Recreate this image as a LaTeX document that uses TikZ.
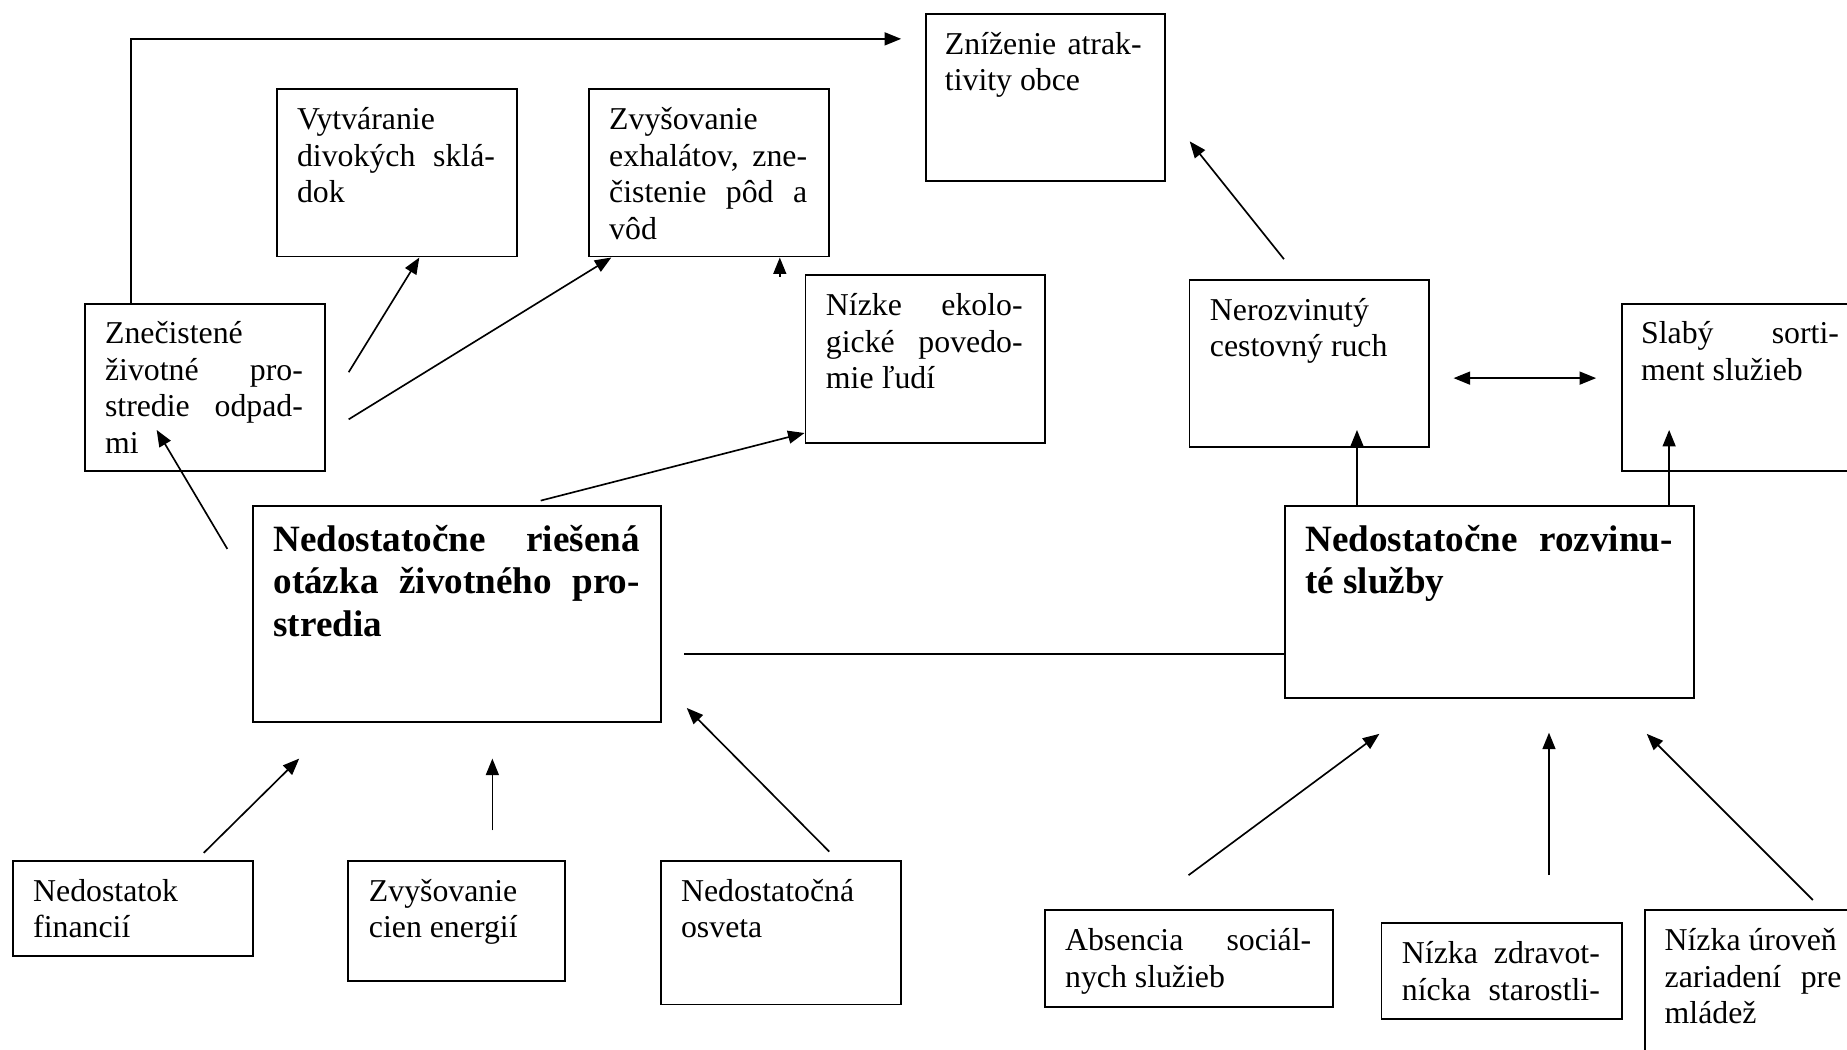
\documentclass[tikz,border=0pt]{standalone}
\usepackage{fontspec}
\setmainfont{Liberation Serif}
\usetikzlibrary{arrows.meta}
\newcommand\myL[1]{\hbox to\hsize{#1\hfil}}
\newcommand\myJ[1]{\hbox to\hsize{#1}}
\newcommand\tb[2]{\vtop{\hsize=#1\relax #2}}
\tikzset{
  box/.style={draw, line width=1.6pt, anchor=north west, inner sep=0pt},
  txt/.style={anchor=base west, inner sep=0pt, font=\fontsize{27}{31}\selectfont},
  btxt/.style={anchor=base west, inner sep=0pt, font=\fontsize{31.5}{36.2}\selectfont\bfseries},
  arr/.style={line width=1.4pt, -{Triangle[length=14pt,width=11pt]}},
  darr/.style={line width=1.4pt, {Triangle[length=14pt,width=11pt]}-{Triangle[length=14pt,width=11pt]}},
  ln/.style={line width=1.4pt}
}
\begin{document}
\begin{tikzpicture}[x=1pt,y=-1pt]
\fill[white] (0,0) rectangle (1568,891);
\useasboundingbox (0,0) rectangle (1568,891);
\begin{scope}
\clip (0,0) rectangle (1568,891);
% boxes
\node[box, minimum width=203pt, minimum height=142pt] (zni) at (785,11) {};
\node[txt] (zni-t) at ([xshift=17pt,yshift=-35pt]zni.north west)
  {\tb{167pt}{\myJ{Zníženie\hfill atrak-}\myL{tivity obce}}};
\node[box, minimum width=204pt, minimum height=142pt] (vyt) at (234,75) {};
\node[txt] (vyt-t) at ([xshift=18pt,yshift=-35pt]vyt.north west)
  {\tb{168pt}{\myL{Vytváranie}\myJ{divokých\hfill sklá-}\myL{dok}}};
\node[box, minimum width=204pt, minimum height=142pt] (zvy) at (499,75) {};
\node[txt] (zvy-t) at ([xshift=18pt,yshift=-35pt]zvy.north west)
  {\tb{168pt}{\myL{Zvyšovanie}\myJ{exhalátov,\hfill zne-}\myJ{čistenie\hfill pôd\hfill a}\myL{vôd}}};
\node[box, minimum width=203pt, minimum height=142pt] (niz) at (683,233) {};
\node[txt] (niz-t) at ([xshift=18pt,yshift=-35pt]niz.north west)
  {\tb{167pt}{\myJ{Nízke\hfill ekolo-}\myJ{gické\hfill povedo-}\myL{mie ľudí}}};
\node[box, minimum width=204pt, minimum height=142pt] (zne) at (71,257) {};
\node[txt] (zne-t) at ([xshift=18pt,yshift=-35pt]zne.north west)
  {\tb{168pt}{\myL{Znečistené}\myJ{životné\hfill pro-}\myJ{stredie\hfill odpad-}\myL{mi}}};
\node[box, minimum width=203pt, minimum height=142pt] (ner) at (1009,237) {};
\node[txt] (ner-t) at ([xshift=18pt,yshift=-35pt]ner.north west)
  {\tb{167pt}{\myL{Nerozvinutý}\myL{cestovný ruch}}};
\node[box, minimum width=204pt, minimum height=142pt] (sla) at (1376,257) {};
\node[txt] (sla-t) at ([xshift=17pt,yshift=-35pt]sla.north west)
  {\tb{168pt}{\myJ{Slabý\hfill sorti-}\myL{ment služieb}}};
\node[box, minimum width=346pt, minimum height=183pt] (ml) at (214,429) {};
\node[btxt] (ml-t) at ([xshift=18pt,yshift=-39pt]ml.north west)
  {\tb{311pt}{\myJ{Nedostatočne\hfill riešená}\myJ{otázka\hfill životného\hfill pro-}\myL{stredia}}};
\node[box, minimum width=347pt, minimum height=163pt] (mr) at (1090,429) {};
\node[btxt] (mr-t) at ([xshift=18pt,yshift=-39pt]mr.north west)
  {\tb{312pt}{\myJ{Nedostatočne\hfill rozvinu-}\myL{té služby}}};
\node[box, minimum width=204pt, minimum height=81pt] (ned) at (10,730) {};
\node[txt] (ned-t) at ([xshift=18pt,yshift=-35pt]ned.north west)
  {\tb{168pt}{\myL{Nedostatok}\myL{financií}}};
\node[box, minimum width=184pt, minimum height=102pt] (zvc) at (295,730) {};
\node[txt] (zvc-t) at ([xshift=18pt,yshift=-35pt]zvc.north west)
  {\tb{148pt}{\myL{Zvyšovanie}\myL{cien energií}}};
\node[box, minimum width=204pt, minimum height=122pt] (neo) at (560,730) {};
\node[txt] (neo-t) at ([xshift=18pt,yshift=-35pt]neo.north west)
  {\tb{168pt}{\myL{Nedostatočná}\myL{osveta}}};
\node[box, minimum width=245pt, minimum height=82pt] (abs) at (886,772) {};
\node[txt] (abs-t) at ([xshift=18pt,yshift=-35pt]abs.north west)
  {\tb{209pt}{\myJ{Absencia\hfill sociál-}\myL{nych služieb}}};
\node[box, minimum width=204pt, minimum height=81pt] (nzd) at (1172,783) {};
\node[txt] (nzd-t) at ([xshift=18pt,yshift=-35pt]nzd.north west)
  {\tb{168pt}{\myJ{Nízka\hfill zdravot-}\myJ{nícka\hfill starostli-}}};
\node[box, minimum width=204pt, minimum height=140pt] (nur) at (1396,772) {};
\node[txt] (nur-t) at ([xshift=17pt,yshift=-35pt]nur.north west)
  {\tb{150pt}{\myL{Nízka úroveň}\myJ{zariadení\hfill pre}\myL{mládež}}};
% free ends
\coordinate (t1) at (765,33);
\coordinate (a2s) at (296,316);
\coordinate (a3s) at (296,356);
\coordinate (a4s) at (662,235);
\coordinate (a5s) at (193,466);
\coordinate (a5e) at (133,365);
\coordinate (a6s) at (459,425);
\coordinate (a7s) at (1090,220);
\coordinate (a7e) at (1010,120);
\coordinate (d1) at (1234,321);
\coordinate (d2) at (1355,321);
\coordinate (a9e) at (1152,365);
\coordinate (a10e) at (1417,365);
\coordinate (hl) at (581,555);
\coordinate (b1s) at (173,724);
\coordinate (b1e) at (254,644);
\coordinate (b2s) at (418,705);
\coordinate (b2e) at (418,644);
\coordinate (b3s) at (704,723);
\coordinate (b3e) at (583,601);
\coordinate (c1s) at (1009,743);
\coordinate (c1e) at (1171,623);
\coordinate (c2s) at (1315,743);
\coordinate (c2e) at (1315,622);
\coordinate (c3s) at (1539,764);
\coordinate (c3e) at (1398,623);
% connectors
\draw[arr] ([xshift=40pt]zne.north west) |- (t1);
\draw[arr] (a2s) -- ([xshift=122pt]vyt.south west);
\draw[arr] (a3s) -- ([xshift=20pt]zvy.south west);
\draw[arr] (a4s) -- ([xshift=163pt]zvy.south west);
\draw[arr] (a5s) -- (a5e);
\draw[arr] (a6s) -- ([yshift=9pt]niz.south west);
\draw[arr] (a7s) -- (a7e);
\draw[darr] (d1) -- (d2);
\draw[arr] ([xshift=62pt]mr.north west) -- (a9e);
\draw[arr] ([xshift=327pt]mr.north west) -- (a10e);
\draw[ln] (hl) -- (hl -| mr.west);
\draw[arr] (b1s) -- (b1e);
\draw[arr] (b2s) -- (b2e);
\draw[arr] (b3s) -- (b3e);
\draw[arr] (c1s) -- (c1e);
\draw[arr] (c2s) -- (c2e);
\draw[arr] (c3s) -- (c3e);
\end{scope}
\end{tikzpicture}
\end{document}
